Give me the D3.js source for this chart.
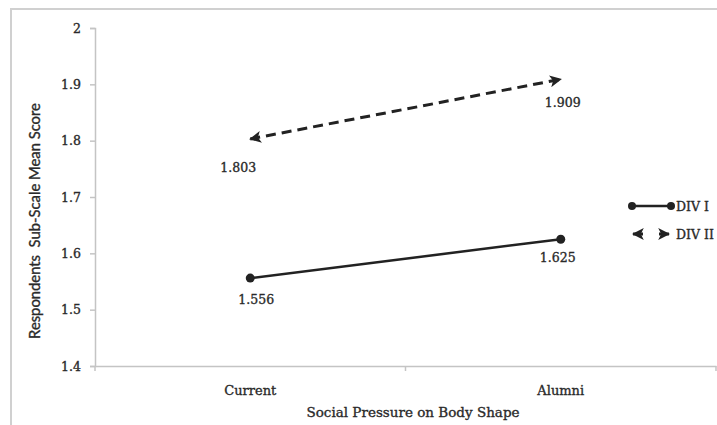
<!DOCTYPE html>
<html><head><meta charset="utf-8">
<script src="https://cdn.jsdelivr.net/npm/d3@7"></script>
<style>body{margin:0;background:#fff}svg{display:block}</style>
</head><body>
<script>
const categories = ["Current", "Alumni"];
const seriesNames = ["DIV I", "DIV II"];
const divI = [1.556, 1.625];
const divII = [1.803, 1.909];
const yTicks = [1.4, 1.5, 1.6, 1.7, 1.8, 1.9, 2];
const xTitle = "Social Pressure on Body Shape";
const yTitle = "Respondents  Sub-Scale Mean Score";

const W = 717, H = 425;
const svg = d3.select("body").append("svg").attr("width", W).attr("height", H);
const serif = "'DejaVu Serif', serif";
const ink = "#2a2a2a";
const thick = s => s.attr("stroke", ink).attr("stroke-width", 0.35);

// outer frame
svg.append("rect").attr("x", 11).attr("y", 9).attr("width", 720).attr("height", 430)
  .attr("fill", "none").attr("stroke", "#d0d0d0").attr("stroke-width", 2);

const x = d3.scaleBand().domain(categories).range([95, 716]);
const y = d3.scaleLinear().domain([1.4, 2]).range([366, 28]);
const cx = c => x(c) + x.bandwidth() / 2;

// y axis
const ya = svg.append("g").attr("transform", "translate(95,0)")
  .call(d3.axisLeft(y).tickValues(yTicks).tickSize(5).tickPadding(9).tickFormat(d3.format("")));
ya.select(".domain").attr("stroke", "#c4c4c4").attr("stroke-width", 1.5);
ya.selectAll(".tick line").attr("stroke", "#c4c4c4").attr("stroke-width", 1.5);
ya.selectAll("text").attr("font-family", serif).attr("font-size", 12.5).attr("fill", ink).call(thick);

// x axis
const xa = svg.append("g").attr("transform", "translate(0,366)")
  .call(d3.axisBottom(x).tickSize(0).tickPadding(20));
xa.select(".domain").attr("stroke", "#c4c4c4").attr("stroke-width", 1.5);
xa.selectAll("text").attr("font-family", serif).attr("font-size", 13).attr("fill", ink).call(thick);
// boundary ticks
const bounds = categories.map(c => x(c)).concat([x(categories[categories.length - 1]) + x.bandwidth()]);
svg.append("g").selectAll("line").data(bounds).join("line")
  .attr("x1", d => d).attr("x2", d => d).attr("y1", 366).attr("y2", 371)
  .attr("stroke", "#c4c4c4").attr("stroke-width", 1.5);

// titles
svg.append("text").attr("x", 413).attr("y", 417).attr("text-anchor", "middle")
  .attr("font-family", serif).attr("font-size", 13.5).attr("fill", ink).call(thick).text(xTitle);
svg.append("text").attr("transform", "translate(40,221) rotate(-90)").attr("text-anchor", "middle")
  .style("white-space", "pre")
  .attr("font-family", "Lato, sans-serif").attr("font-size", 14.8).attr("fill", ink).call(thick).text(yTitle);

// arrow markers
const defs = svg.append("defs");
defs.append("marker").attr("id", "arr").attr("viewBox", "0 0 10 10").attr("refX", 9).attr("refY", 5)
  .attr("markerWidth", 4).attr("markerHeight", 4).attr("orient", "auto-start-reverse")
  .attr("markerUnits", "strokeWidth")
  .append("path").attr("d", "M0,0 L10,5 L0,10 L2.5,5 Z").attr("fill", "#222");

const line = d3.line().x((d, i) => cx(categories[i])).y(d => y(d));

// DIV II dashed
svg.append("path").datum(divII).attr("d", line).attr("fill", "none").attr("stroke", "#222")
  .attr("stroke-width", 3).attr("stroke-dasharray", "10,6")
  .attr("marker-start", "url(#arr)").attr("marker-end", "url(#arr)");

// DIV I solid
svg.append("path").datum(divI).attr("d", line).attr("fill", "none").attr("stroke", "#222")
  .attr("stroke-width", 2.5);
svg.append("g").selectAll("circle").data(divI).join("circle")
  .attr("cx", (d, i) => cx(categories[i])).attr("cy", d => y(d)).attr("r", 4.5).attr("fill", "#222");

// value labels
const labelOff = { "DIV I": [[6, 26], [-3, 23]], "DIV II": [[-12, 33], [2, 28]] };
[["DIV I", divI], ["DIV II", divII]].forEach(([name, vals]) => {
  svg.append("g").selectAll("text").data(vals).join("text")
    .attr("x", (d, i) => cx(categories[i]) + labelOff[name][i][0])
    .attr("y", (d, i) => y(d) + labelOff[name][i][1])
    .attr("text-anchor", "middle").attr("font-family", serif).attr("font-size", 12.5)
    .attr("fill", ink).call(thick).text(d => d3.format(".3f")(d));
});

// legend
const lg = svg.append("g");
lg.append("line").attr("x1", 632).attr("x2", 671).attr("y1", 206).attr("y2", 206)
  .attr("stroke", "#222").attr("stroke-width", 2.5);
lg.selectAll("circle").data([632, 671]).join("circle").attr("cx", d => d).attr("cy", 206)
  .attr("r", 4).attr("fill", "#222");
lg.append("line").attr("x1", 633).attr("x2", 669).attr("y1", 234).attr("y2", 234)
  .attr("stroke", "#222").attr("stroke-width", 3).attr("stroke-dasharray", "10,16,10")
  .attr("marker-start", "url(#arr)").attr("marker-end", "url(#arr)");
lg.selectAll("text").data(seriesNames).join("text")
  .attr("x", 676).attr("y", (d, i) => 206 + i * 28 + 4.5)
  .attr("font-family", serif).attr("font-size", 12.5).attr("fill", ink).call(thick).text(d => d);
</script>
</body></html>
